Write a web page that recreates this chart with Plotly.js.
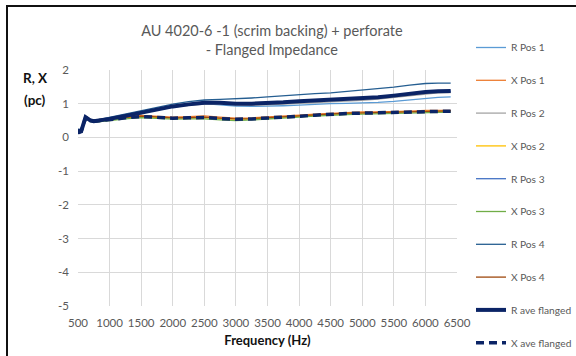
<!DOCTYPE html>
<html>
<head>
<meta charset="utf-8">
<script src="https://cdn.plot.ly/plotly-3.0.1.min.js"></script>
<style>
  html, body { margin: 0; padding: 0; background: #ffffff; }
  #wrap { position: relative; width: 576px; height: 356px; }
  #chart { width: 576px; height: 356px; }
  #frame { position: absolute; left: 6px; top: 5px; width: 580px; height: 360px;
           border-left: 2px solid #111; border-top: 2px solid #111; pointer-events: none; }
</style>
</head>
<body>
<div id="wrap">
  <div id="chart"></div>
  <div id="frame"></div>
</div>
<script>
// Frequencies (Hz)
const freq = [500, 520, 550, 580, 620, 660, 700, 750, 800, 900, 1000, 1250, 1500, 1750, 2000, 2250, 2500, 2750, 3000, 3250, 3500, 3750, 4000, 4250, 4500, 4750, 5000, 5250, 5500, 5750, 6000, 6200, 6400];

// Resistance / reactance (pc)
const rPos1 = [0.22,0.16,0.17,0.33,0.58,0.53,0.49,0.47,0.48,0.51,0.54,0.62,0.72,0.82,0.91,0.97,1.00,0.97,0.93,0.92,0.92,0.94,0.96,0.99,1.00,1.01,1.02,1.04,1.07,1.12,1.17,1.19,1.20];
const xPos1 = [0.21,0.16,0.19,0.37,0.61,0.58,0.53,0.51,0.52,0.55,0.58,0.61,0.65,0.63,0.60,0.62,0.64,0.60,0.57,0.58,0.60,0.63,0.66,0.69,0.72,0.74,0.76,0.76,0.76,0.78,0.80,0.80,0.80];
const rPos2 = [0.23,0.17,0.18,0.34,0.59,0.54,0.49,0.47,0.48,0.51,0.54,0.63,0.72,0.82,0.90,0.95,0.99,0.99,0.97,0.96,0.97,0.99,1.02,1.04,1.06,1.08,1.10,1.14,1.19,1.25,1.30,1.32,1.33];
const xPos2 = [0.20,0.15,0.18,0.35,0.58,0.55,0.50,0.48,0.49,0.52,0.55,0.58,0.62,0.60,0.57,0.58,0.59,0.56,0.54,0.55,0.57,0.60,0.63,0.66,0.69,0.71,0.72,0.73,0.73,0.75,0.77,0.78,0.78];
const rPos3 = [0.25,0.18,0.19,0.36,0.61,0.56,0.51,0.49,0.49,0.52,0.55,0.64,0.74,0.84,0.92,0.97,1.02,1.02,0.99,0.99,1.00,1.03,1.06,1.08,1.10,1.12,1.14,1.18,1.23,1.29,1.34,1.36,1.37];
const xPos3 = [0.19,0.14,0.17,0.33,0.55,0.52,0.47,0.45,0.46,0.49,0.52,0.55,0.59,0.57,0.54,0.55,0.55,0.52,0.50,0.52,0.54,0.57,0.60,0.63,0.66,0.68,0.69,0.70,0.70,0.72,0.74,0.75,0.75];
const rPos4 = [0.26,0.19,0.20,0.37,0.62,0.57,0.52,0.50,0.52,0.55,0.58,0.69,0.80,0.90,0.99,1.06,1.11,1.13,1.14,1.17,1.20,1.24,1.27,1.30,1.32,1.36,1.40,1.44,1.49,1.55,1.60,1.61,1.61];
const xPos4 = [0.20,0.15,0.18,0.35,0.58,0.55,0.50,0.48,0.49,0.52,0.56,0.59,0.63,0.61,0.58,0.59,0.60,0.57,0.55,0.56,0.58,0.61,0.64,0.67,0.70,0.72,0.73,0.74,0.74,0.76,0.78,0.79,0.79];
const rAve  = [0.24,0.17,0.18,0.35,0.60,0.55,0.50,0.48,0.49,0.52,0.55,0.64,0.74,0.84,0.92,0.98,1.03,1.03,1.00,1.00,1.01,1.04,1.07,1.09,1.11,1.13,1.15,1.19,1.24,1.30,1.35,1.37,1.38];
const xAve  = [0.20,0.15,0.18,0.35,0.58,0.55,0.50,0.48,0.49,0.52,0.55,0.58,0.62,0.60,0.57,0.58,0.59,0.56,0.54,0.55,0.57,0.60,0.63,0.66,0.69,0.71,0.72,0.73,0.73,0.75,0.77,0.78,0.78];

const xTicks = [500, 1000, 1500, 2000, 2500, 3000, 3500, 4000, 4500, 5000, 5500, 6000, 6500];
const yTicks = [2, 1, 0, -1, -2, -3, -4, -5];

const seriesNames = ['R Pos 1','X Pos 1','R Pos 2','X Pos 2','R Pos 3','X Pos 3','R Pos 4','X Pos 4','R ave flanged','X ave flanged'];
const seriesData  = [rPos1, xPos1, rPos2, xPos2, rPos3, xPos3, rPos4, xPos4, rAve, xAve];
const seriesColor = ['#5B9BD5','#ED7D31','#A5A5A5','#FFC000','#4472C4','#70AD47','#255E91','#9E480E','#0B2466','#0B2466'];
const seriesWidth = [1.3,1.3,1.3,1.3,1.3,1.3,1.3,1.3,4,3.5];
const seriesDash  = ['solid','solid','solid','solid','solid','solid','solid','solid','solid','8px,5px'];

const traces = seriesNames.map((n, i) => ({
  type: 'scatter', mode: 'lines', name: n, x: freq, y: seriesData[i],
  legendgroup: 'g' + i,
  legend: i < 5 ? 'legend' : 'legend2',
  line: { color: seriesColor[i], width: seriesWidth[i], dash: seriesDash[i] }
}));

const font = 'Lato, "Open Sans", sans-serif';
const legendBase = {
  xref: 'container', yref: 'container', xanchor: 'left', yanchor: 'top',
  font: { family: font, size: 10.2, color: '#595959' },
  tracegroupgap: 13.8, itemwidth: 30, bgcolor: 'rgba(0,0,0,0)'
};
const layout = {
  width: 576, height: 356,
  margin: { l: 78, r: 119, t: 70, b: 50 },
  paper_bgcolor: '#ffffff', plot_bgcolor: '#ffffff',
  font: { family: font, color: '#595959', size: 11 },
  title: {
    text: 'AU 4020-6 -1 (scrim backing) + perforate<br>- Flanged Impedance',
    font: { family: font, size: 14.5, color: '#595959' },
    x: 0.472, xanchor: 'center', xref: 'container',
    y: 1 - 36/356, yanchor: 'top', yref: 'container'
  },
  xaxis: {
    range: [500, 6500], tickvals: xTicks, ticktext: xTicks.map(String),
    showgrid: true, gridcolor: '#D9D9D9', gridwidth: 1, zeroline: false, showline: false,
    ticks: '', ticklabelstandoff: 8, tickfont: { family: font, size: 11.5, color: '#595959' },
    title: { text: '<b>Frequency (Hz)</b>', font: { family: font, size: 13, color: '#111' }, standoff: 8 }
  },
  yaxis: {
    range: [-5, 2], tickvals: yTicks, ticktext: yTicks.map(String),
    showgrid: true, gridcolor: '#D9D9D9', gridwidth: 1, zeroline: false, showline: false,
    ticks: '', ticklabelstandoff: 8, tickfont: { family: font, size: 11.5, color: '#595959' }
  },
  showlegend: true,
  legend: Object.assign({}, legendBase, { x: 471/576, y: 1 - 33/356 }),
  legend2: Object.assign({}, legendBase, { x: 471/576, y: 1 - 197/356 }),
  annotations: [
    {
      xref: 'paper', yref: 'paper', x: (35 - 78) / 379, y: 1 - (78 - 70) / 236,
      xanchor: 'center', yanchor: 'middle', showarrow: false,
      text: '<b>R, X</b>', font: { family: font, size: 13.5, color: '#111' }
    },
    {
      xref: 'paper', yref: 'paper', x: (35 - 78) / 379, y: 1 - (100 - 70) / 236,
      xanchor: 'center', yanchor: 'middle', showarrow: false,
      text: '<b>(pc)</b>', font: { family: font, size: 13.5, color: '#111' }
    }
  ]
};

Plotly.newPlot('chart', traces, layout, { displayModeBar: false, staticPlot: true });
</script>
</body>
</html>
